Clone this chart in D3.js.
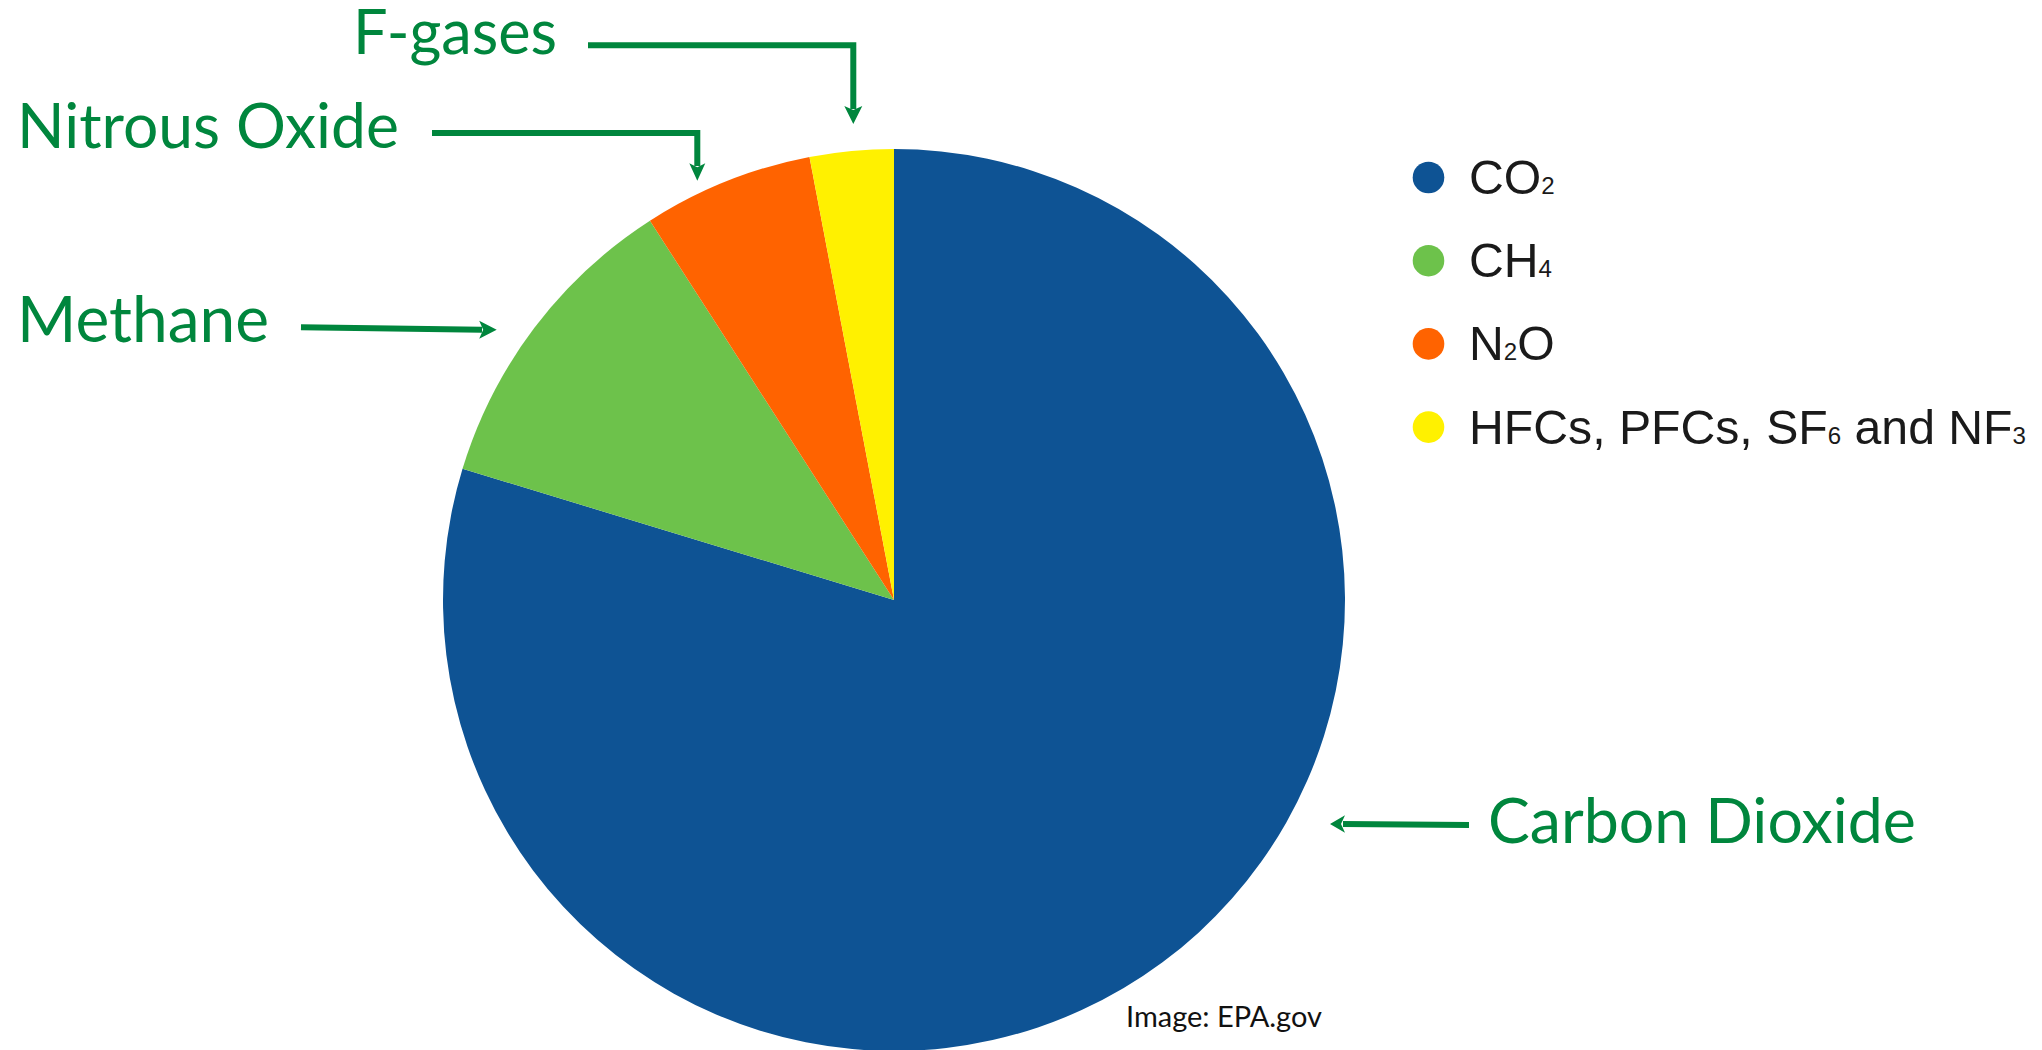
<!DOCTYPE html>
<html>
<head>
<meta charset="utf-8">
<script src="https://cdn.jsdelivr.net/npm/d3@7"></script>
<style>
  html, body { margin: 0; padding: 0; background: #ffffff; }
  svg { display: block; }
</style>
</head>
<body>
<svg id="chart" width="2042" height="1050"></svg>
<script>
// ---------- data ----------
const gases = ["CO2", "CH4", "N2O", "F-gases"];
const shares = [79.7, 11.2, 6.1, 3.0];               // percent of emissions
const legendLabels = ["CO{2}", "CH{4}", "N{2}O", "HFCs, PFCs, SF{6} and NF{3}"];
const calloutLabels = ["Carbon Dioxide", "Methane", "Nitrous Oxide", "F-gases"];
const creditText = "Image: EPA.gov";

// ---------- styles / layout ----------
const sliceColors = ["#0e5394", "#6dc24b", "#ff6300", "#fff100"];
const annoColor = "#00863d";
const pieCenter = { x: 894, y: 600 }, pieRadius = 451;

const svg = d3.select("#chart");

// ---------- pie ----------
const color = d3.scaleOrdinal().domain(gases).range(sliceColors);
const pie = d3.pie().sort(null).value(d => d.v).startAngle(0).endAngle(2 * Math.PI);
const arc = d3.arc().innerRadius(0).outerRadius(pieRadius);
const data = gases.map((g, i) => ({ g, v: shares[i] }));

svg.append("g")
  .attr("transform", `translate(${pieCenter.x},${pieCenter.y})`)
  .selectAll("path")
  .data(pie(data))
  .join("path")
  .attr("d", arc)
  .attr("fill", d => color(d.data.g));

// ---------- legend ----------
const legend = { x: 1428.5, y0: 177.5, step: 83.2, r: 15.8, textX: 1469, subRatio: 0.5, longWidth: 557 };
const lg = svg.append("g");
function addLabel(textSel, label) {
  const parts = label.split(/(\{[^}]*\})/).filter(p => p.length);
  parts.forEach(p => {
    if (p.startsWith("{")) {
      textSel.append("tspan").attr("class", "sub").text(p.slice(1, -1));
    } else {
      textSel.append("tspan").text(p);
    }
  });
}
const legTexts = [];
gases.forEach((g, i) => {
  const cy = legend.y0 + i * legend.step;
  lg.append("circle").attr("cx", legend.x).attr("cy", cy).attr("r", legend.r).attr("fill", color(g));
  const t = lg.append("text")
    .attr("x", legend.textX).attr("y", cy + 16.5)
    .attr("font-family", "'Liberation Sans', Arial, sans-serif")
    .attr("fill", "#1a1a1a");
  addLabel(t, legendLabels[i]);
  legTexts.push(t);
});
// fit font size so the long label spans the same width as in the reference
{
  const setSize = fs => legTexts.forEach(tt => {
    tt.attr("font-size", fs);
    tt.selectAll("tspan.sub").attr("font-size", fs * legend.subRatio);
  });
  setSize(100);
  const len = legTexts[3].node().getComputedTextLength();
  setSize(100 * legend.longWidth / len);
}

// ---------- callout annotations ----------
const annoFont = "Lato, 'Open Sans', sans-serif";
const callouts = [
  { label: calloutLabels[0], x: 1488, w: 428, base: 843,
    line: [[1469, 825], [1343, 824]], head: { tip: [1330, 824], dir: "left", len: 15, half: 8.8 } },
  { label: calloutLabels[1], x: 17, w: 252, base: 342,
    line: [[301, 327.3], [482, 329.7]], head: { tip: [496.7, 329.7], dir: "right", len: 17.5, half: 9 } },
  { label: calloutLabels[2], x: 17, w: 382, base: 148,
    line: [[432, 133], [697.3, 133], [697.3, 166]], head: { tip: [697.3, 180.7], dir: "down", len: 17.5, half: 8 } },
  { label: calloutLabels[3], x: 353, w: 204, base: 54,
    line: [[588, 45.3], [853.3, 45.3], [853.3, 109]], head: { tip: [853.3, 124], dir: "down", len: 18, half: 9 } }
];

function fitText(sel, width) {
  sel.attr("font-size", 100);
  const len = sel.node().getComputedTextLength();
  sel.attr("font-size", 100 * width / len);
}

const ag = svg.append("g");
callouts.forEach(c => {
  const t = ag.append("text")
    .attr("x", c.x).attr("y", c.base)
    .attr("font-family", annoFont)
    .attr("fill", annoColor)
    .text(c.label);
  fitText(t, c.w);

  ag.append("path")
    .attr("d", d3.line()(c.line))
    .attr("fill", "none")
    .attr("stroke", annoColor)
    .attr("stroke-width", 6)
    .attr("stroke-linejoin", "miter");

  const [tx, ty] = c.head.tip, L = c.head.len, h = c.head.half, n = 4;
  let pts;
  if (c.head.dir === "down") pts = [[tx, ty], [tx - h, ty - L], [tx, ty - L + n], [tx + h, ty - L]];
  else if (c.head.dir === "right") pts = [[tx, ty], [tx - L, ty - h], [tx - L + n, ty], [tx - L, ty + h]];
  else pts = [[tx, ty], [tx + L, ty - h], [tx + L - n, ty], [tx + L, ty + h]];
  ag.append("path").attr("d", d3.line()(pts) + "Z").attr("fill", annoColor);
});

// ---------- credit ----------
const credit = svg.append("text")
  .attr("x", 1126).attr("y", 1026.5)
  .attr("font-family", annoFont)
  .attr("fill", "#111111")
  .text(creditText);
fitText(credit, 196);
</script>
</body>
</html>
